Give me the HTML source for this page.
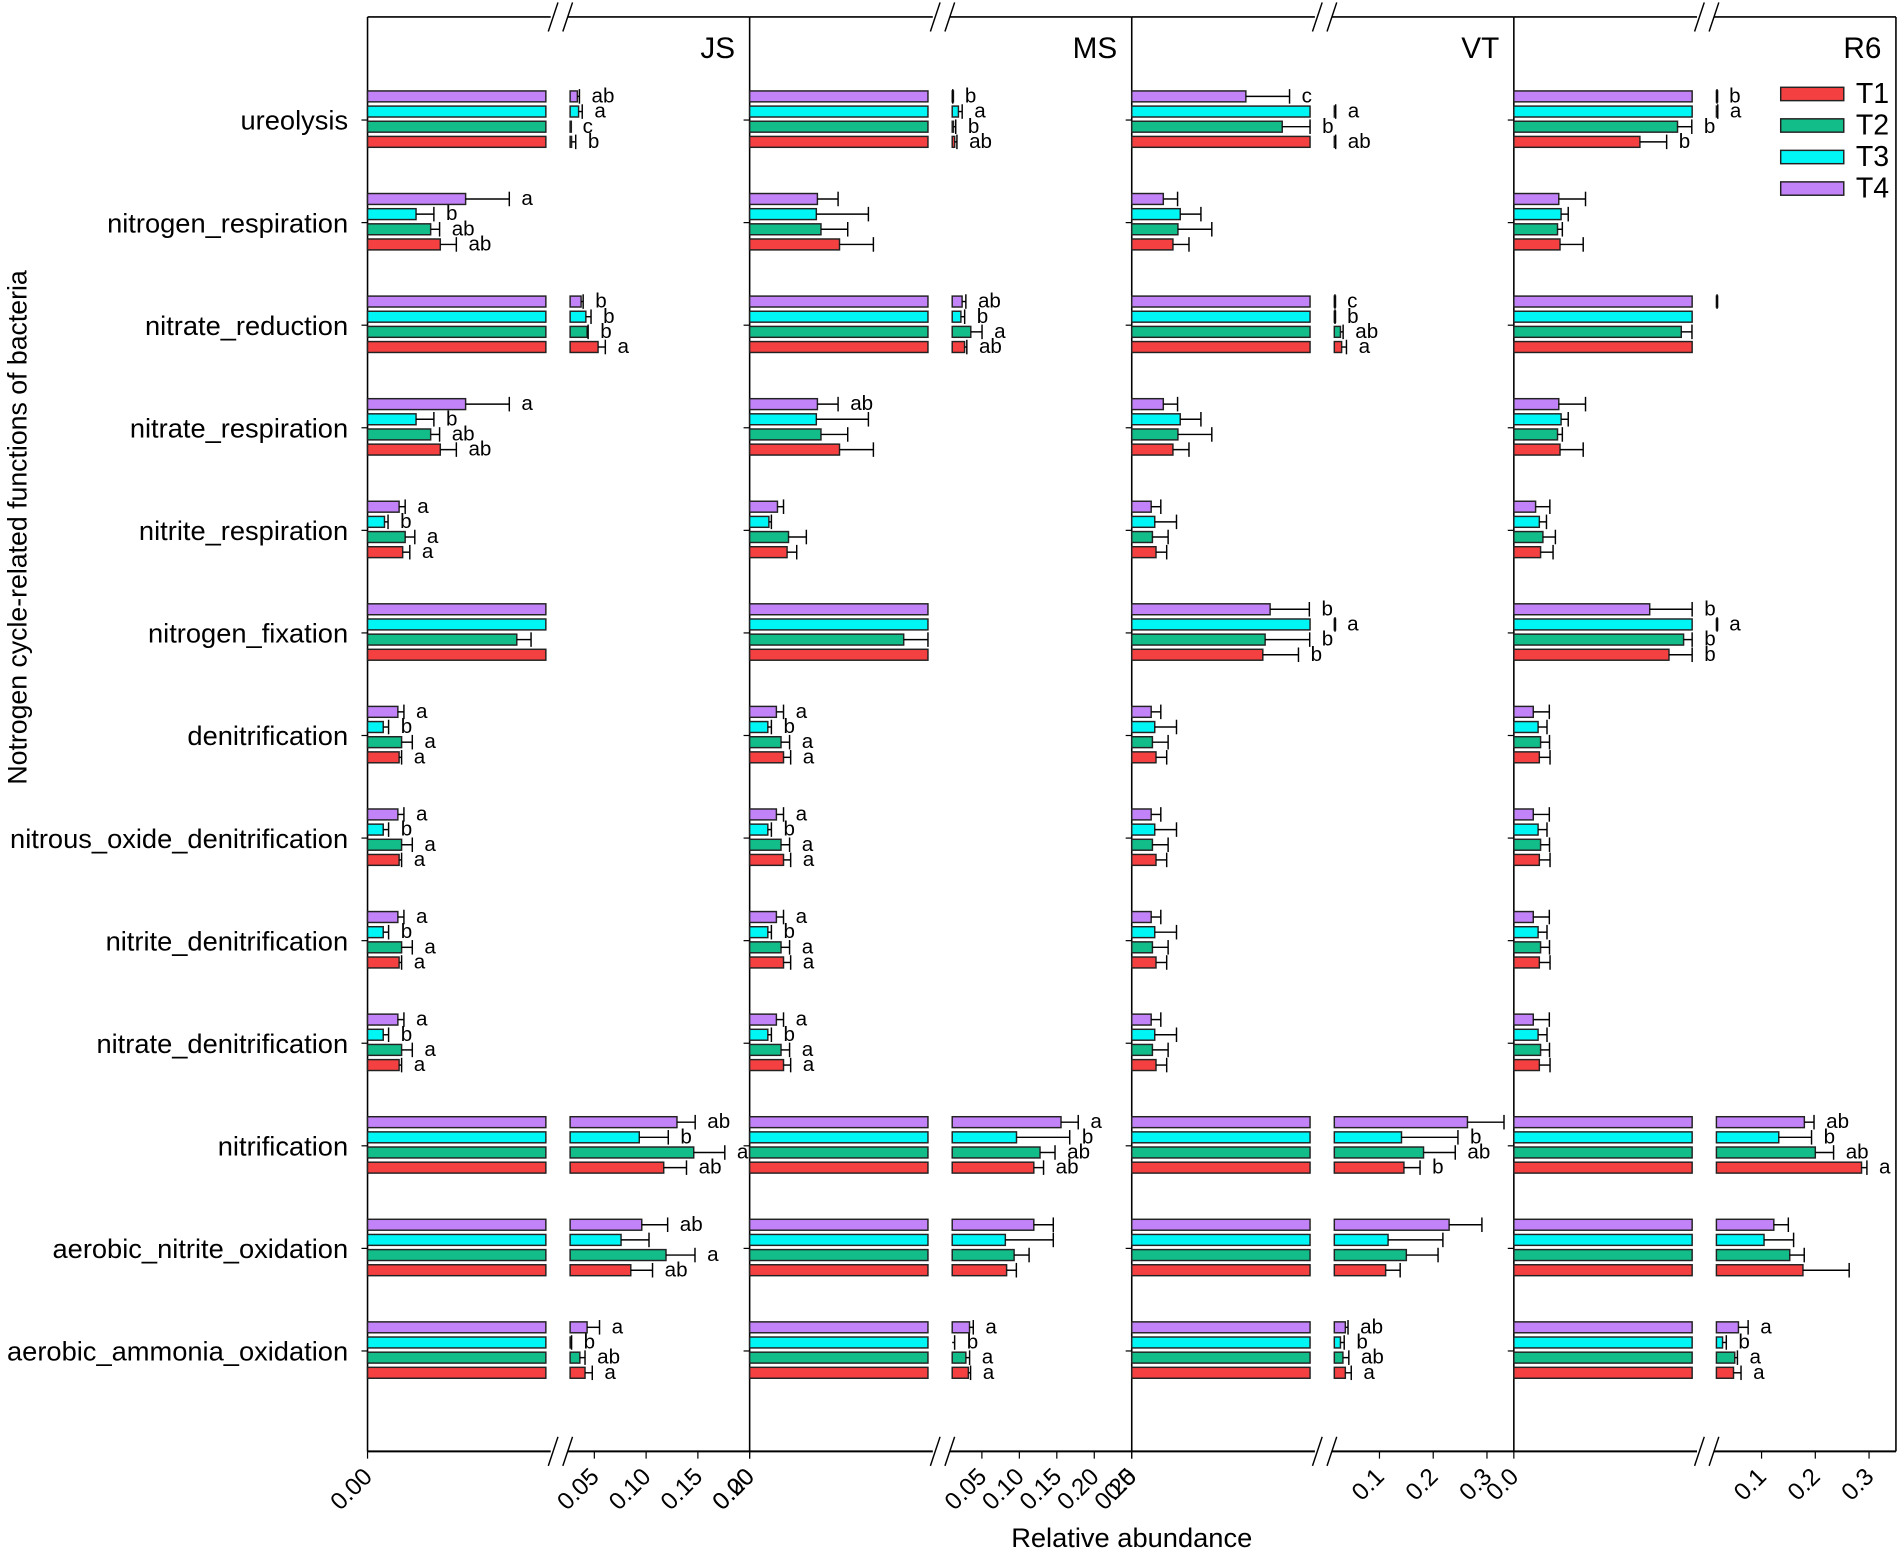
<!DOCTYPE html>
<html><head><meta charset="utf-8"><style>
html,body{margin:0;padding:0;background:#fff;}
svg{display:block;}
text{font-family:"Liberation Sans Narrow","Liberation Sans",sans-serif;fill:#000;}
</style></head><body>
<svg id="chart" width="1902" height="1552" viewBox="0 0 1568 1280" preserveAspectRatio="none" xmlns="http://www.w3.org/2000/svg">
<text x="0" y="0" transform="translate(22,435) rotate(-90)" text-anchor="middle" style="font-family:'Liberation Sans',sans-serif;font-size:22px">Notrogen cycle-related functions of bacteria</text>
<text x="933" y="1276" text-anchor="middle" style="font-size:22.5px">Relative abundance</text>
<g id="legend"></g>
</svg>
<script>
const categories=["ureolysis","nitrogen_respiration","nitrate_reduction","nitrate_respiration","nitrite_respiration","nitrogen_fixation","denitrification","nitrous_oxide_denitrification","nitrite_denitrification","nitrate_denitrification","nitrification","aerobic_nitrite_oxidation","aerobic_ammonia_oxidation"];
const treatments=["T1","T2","T3","T4"];
const colors=["#f44040","#12bd8a","#00f5f5","#c283f8"];
const panelNames=["JS","MS","VT","R6"];
// JS
const JS_T1=[.028,.00408,.0536,.00408,.00197,.015,.00177,.00177,.00177,.00177,.117,.0852,.041];
const JS_T1e=[.004,.0009,.007,.0009,.0004,0,.00014,.00014,.00014,.00014,.022,.021,.007];
const JS_T2=[.027,.00354,.043,.00354,.00211,.00837,.00191,.00191,.00191,.00191,.146,.1192,.036];
const JS_T2e=[0,.0005,.001,.0005,.00054,.0008,.0006,.0006,.0006,.0006,.030,.028,.005];
const JS_T3=[.0348,.00272,.0418,.00272,.00095,.015,.00088,.00088,.00088,.00088,.0934,.0758,.027];
const JS_T3e=[.0035,.001,.005,.001,.0002,0,.0003,.0003,.0003,.0003,.028,.027,.001];
const JS_T4=[.0336,.0055,.0372,.0055,.00177,.015,.0017,.0017,.0017,.0017,.1298,.0958,.043];
const JS_T4e=[.002,.00245,.002,.00245,.00034,0,.00034,.00034,.00034,.00034,.0176,.025,.012];
const JS_L1=["b","ab","a","ab","a","","a","a","a","a","ab","ab","a"];
const JS_L2=["c","ab","b","ab","a","","a","a","a","a","a","a","ab"];
const JS_L3=["a","b","b","b","b","","b","b","b","b","b","","b"];
const JS_L4=["ab","a","b","a","a","","a","a","a","a","ab","ab","a"];
// MS
const MS_T1=[.0137,.00252,.0269,.00252,.00105,.008,.00095,.00095,.00095,.00095,.1193,.083,.0319];
const MS_T1e=[.003,.00095,.003,.00095,.00027,0,.0002,.0002,.0002,.0002,.013,.013,.003];
const MS_T2=[.0121,.002,.0352,.002,.00109,.00432,.00088,.00088,.00088,.00088,.1276,.093,.0286];
const MS_T2e=[.003,.00075,.015,.00075,.0005,.00068,.00024,.00024,.00024,.00024,.02,.02,.005];
const MS_T3=[.0187,.00187,.022,.00187,.00054,.008,.00051,.00051,.00051,.00051,.0962,.0813,.0104];
const MS_T3e=[.005,.00146,.005,.00146,.00007,0,.0001,.0001,.0001,.0001,.071,.064,.003];
const MS_T4=[.0106,.0019,.0236,.0019,.00078,.008,.00075,.00075,.00075,.00075,.1556,.1193,.0335];
const MS_T4e=[.0005,.00058,.005,.00058,.00017,0,.0002,.0002,.0002,.0002,.023,.026,.005];
const MS_L1=["ab","","ab","","","","a","a","a","a","ab","","a"];
const MS_L2=["b","","a","","","","a","a","a","a","ab","","a"];
const MS_L3=["a","","b","","","","b","b","b","b","b","","b"];
const MS_L4=["b","","ab","ab","","","a","a","a","a","a","","a"];
// VT
const VT_T1=[.0165,.00231,.0296,.00231,.00136,.00735,.00136,.00136,.00136,.00136,.1455,.1115,.0365];
const VT_T1e=[.002,.0009,.009,.0009,.0006,.002,.0006,.0006,.0006,.0006,.03,.027,.011];
const VT_T2=[.00844,.00259,.0274,.00259,.00116,.00748,.00116,.00116,.00116,.00116,.182,.15,.032];
const VT_T2e=[.00156,.0019,.005,.0019,.00088,.0025,.00088,.00088,.00088,.00088,.059,.059,.011];
const VT_T3=[.0165,.00272,.0163,.00272,.00129,.0163,.00129,.00129,.00129,.00129,.141,.116,.0274];
const VT_T3e=[.002,.00116,.001,.00116,.00122,.001,.00122,.00122,.00122,.00122,.105,.102,.007];
const VT_T4=[.0064,.00177,.0162,.00177,.00109,.00776,.00109,.00109,.00109,.00109,.2637,.2296,.0365];
const VT_T4e=[.00245,.0008,.001,.0008,.00054,.0022,.00054,.00054,.00054,.00054,.068,.061,.005];
const VT_L1=["ab","","a","","","b","","","","","b","","a"];
const VT_L2=["b","","ab","","","b","","","","","ab","","ab"];
const VT_L3=["a","","b","","","a","","","","","b","","b"];
const VT_L4=["c","","c","","","b","","","","","a","","ab"];
// R6
const R6_T1=[.00707,.00259,.016,.00259,.0015,.0087,.00143,.00143,.00143,.00143,.286,.177,.0478];
const R6_T1e=[.0015,.0013,0,.0013,.0007,.0013,.0006,.0006,.0006,.0006,.01,.086,.014];
const R6_T2=[.00918,.00245,.00939,.00245,.00163,.00952,.0015,.0015,.0015,.0015,.2,.1524,.0501];
const R6_T2e=[.0008,.00027,.0006,.00027,.0007,.0005,.0005,.0005,.0005,.0005,.034,.027,.005];
const R6_T3=[.0165,.00265,.016,.00265,.00143,.0163,.00136,.00136,.00136,.00136,.132,.1046,.0274];
const R6_T3e=[.002,.0004,0,.0004,.0004,.001,.0005,.0005,.0005,.0005,.061,.055,.007];
const R6_T4=[.0161,.00252,.0162,.00252,.00122,.00762,.00109,.00109,.00109,.00109,.1796,.1228,.057];
const R6_T4e=[.001,.0015,.001,.0015,.0008,.0024,.0009,.0009,.0009,.0009,.018,.027,.018];
const R6_L1=["b","","","","","b","","","","","a","","a"];
const R6_L2=["b","","","","","b","","","","","ab","","a"];
const R6_L3=["a","","","","","a","","","","","b","","b"];
const R6_L4=["b","","","","","b","","","","","ab","","a"];
// axis breaks / ticks
const leftMax=[0.01,0.005,0.01,0.01];
const rightStart=[0.0266,0.0104,0.016,0.016];
const rightEnd=[0.2,0.25,0.35,0.35];
const rightTicks=[[0.05,0.10,0.15,0.20],[0.05,0.10,0.15,0.20,0.25],[0.1,0.2,0.3],[0.1,0.2,0.3]];
const rightTickLabels=[["0.05","0.10","0.15","0.20"],["0.05","0.10","0.15","0.20","0.25"],["0.1","0.2","0.3"],["0.1","0.2","0.3"]];
const leftTickLabels=["0.00","0.00","0.0","0.0"];

const values=[[JS_T1,JS_T2,JS_T3,JS_T4],[MS_T1,MS_T2,MS_T3,MS_T4],[VT_T1,VT_T2,VT_T3,VT_T4],[R6_T1,R6_T2,R6_T3,R6_T4]];
const errs=[[JS_T1e,JS_T2e,JS_T3e,JS_T4e],[MS_T1e,MS_T2e,MS_T3e,MS_T4e],[VT_T1e,VT_T2e,VT_T3e,VT_T4e],[R6_T1e,R6_T2e,R6_T3e,R6_T4e]];
const letters=[[JS_L1,JS_L2,JS_L3,JS_L4],[MS_L1,MS_L2,MS_L3,MS_L4],[VT_L1,VT_L2,VT_L3,VT_L4],[R6_L1,R6_L2,R6_L3,R6_L4]];

const NS="http://www.w3.org/2000/svg";
const svg=document.getElementById('chart');
function mk(tag,attrs,parent){const e=document.createElementNS(NS,tag);for(const k in attrs)e.setAttribute(k,attrs[k]);(parent||svg).appendChild(e);return e;}
const top0=14,bot0=1197,panelW=315,px0=303,segW=147,gap=20;
const catY=i=>99+i*84.6;
const barOff=[18,5.5,-7,-19.5];
function xLeft(p,v){return px0+p*panelW+Math.min(v,leftMax[p])/leftMax[p]*segW;}
function rsX(p){return px0+p*panelW+segW+gap;}
function xRight(p,v){const rs=rsX(p),re=px0+(p+1)*panelW;return rs+(v-rightStart[p])/(rightEnd[p]-rightStart[p])*(re-rs);}

categories.forEach((c,i)=>{
  const t=mk('text',{x:287,y:catY(i)+8,'text-anchor':'end','font-size':22.5});
  
  
  t.textContent=c;
});

for(let p=0;p<4;p++){
  const g=mk('g',{});
  
  
  const x0=px0+p*panelW,x1=x0+panelW;
  mk('line',{x1:x0,y1:top0,x2:x0,y2:bot0,stroke:'#000','stroke-width':1.3},g);
  if(p===3) mk('line',{x1:x1,y1:top0,x2:x1,y2:bot0,stroke:'#000','stroke-width':1.3},g);
  mk('line',{x1:x0,y1:top0,x2:x1,y2:top0,stroke:'#000','stroke-width':1.3},g);
  mk('line',{x1:x0,y1:bot0,x2:x1,y2:bot0,stroke:'#000','stroke-width':1.6},g);
  const bx=x0+segW;
  [top0,bot0].forEach(yy=>{
    mk('rect',{x:bx+4,y:yy-2,width:14,height:4,fill:'#fff'},g);
    mk('line',{x1:bx+2,y1:yy+12,x2:bx+10,y2:yy-12,stroke:'#000','stroke-width':1.2},g);
    mk('line',{x1:bx+14,y1:yy+12,x2:bx+22,y2:yy-12,stroke:'#000','stroke-width':1.2},g);
  });
  const tt=mk('text',{x:x1-12,y:48,'text-anchor':'end','font-size':24.5},g);
  
  
  tt.textContent=panelNames[p];
  categories.forEach((c,i)=>mk('line',{x1:x0-5,y1:catY(i),x2:x0,y2:catY(i),stroke:'#000'},g));
  mk('line',{x1:x0,y1:bot0,x2:x0,y2:bot0+6,stroke:'#000'},g);
  const ll=mk('text',{x:x0+5,y:bot0+22,'text-anchor':'end','font-size':20,transform:`rotate(-45 ${x0+5} ${bot0+22})`},g);
  
  
  ll.textContent=leftTickLabels[p];
  rightTicks[p].forEach((v,k)=>{
    const x=xRight(p,v);
    mk('line',{x1:x,y1:bot0,x2:x,y2:bot0+6,stroke:'#000'},g);
    const t=mk('text',{x:x+5,y:bot0+22,'text-anchor':'end','font-size':20,transform:`rotate(-45 ${x+5} ${bot0+22})`},g);
    
    
    t.textContent=rightTickLabels[p][k];
  });
  for(let i=0;i<categories.length;i++){
    for(let s=0;s<4;s++){
      const v=values[p][s][i],e=errs[p][s][i],L=letters[p][s][i];
      const yc=catY(i)+barOff[s],h=9;
      const xa=x0,xb=xLeft(p,v);
      const r=mk('rect',{x:xa,y:yc-h/2,width:Math.max(0,xb-xa),height:h,fill:colors[s],stroke:'#222','stroke-width':1.2},g);
      
      
      let barEnd=xb,errEnd=xb;
      if(v>rightStart[p]){
        const rs=rsX(p),xe=xRight(p,v);
        const r2=mk('rect',{x:rs,y:yc-h/2,width:Math.max(1,xe-rs),height:h,fill:colors[s],stroke:'#222','stroke-width':1.2},g);
        
        
        barEnd=xe;errEnd=xRight(p,v+e);
      } else if(v<=leftMax[p]){
        errEnd=xLeft(p,v+e);
      } else {barEnd=rsX(p);errEnd=barEnd+2;}
      if(e>0){
        mk('line',{x1:barEnd,y1:yc,x2:errEnd,y2:yc,stroke:'#000','stroke-width':1.2},g);
        mk('line',{x1:errEnd,y1:yc-6,x2:errEnd,y2:yc+6,stroke:'#000','stroke-width':1.2},g);
      }
      if(L){
        const lt2=mk('text',{x:Math.max(errEnd,barEnd)+10,y:yc+5,'font-size':17},g);
        
        
        lt2.textContent=L;
      }
    }
  }
}
const lg=document.getElementById('legend');
treatments.forEach((t,s)=>{
  const y=72+s*26;
  const r=mk('rect',{x:1468,y:y,width:52,height:11,fill:colors[s],stroke:'#222','stroke-width':1.2},lg);
  
  
  const tx=mk('text',{x:1530,y:y+13,'font-size':23.5},lg);
  
  
  tx.textContent=t;
});
</script>
</body></html>
